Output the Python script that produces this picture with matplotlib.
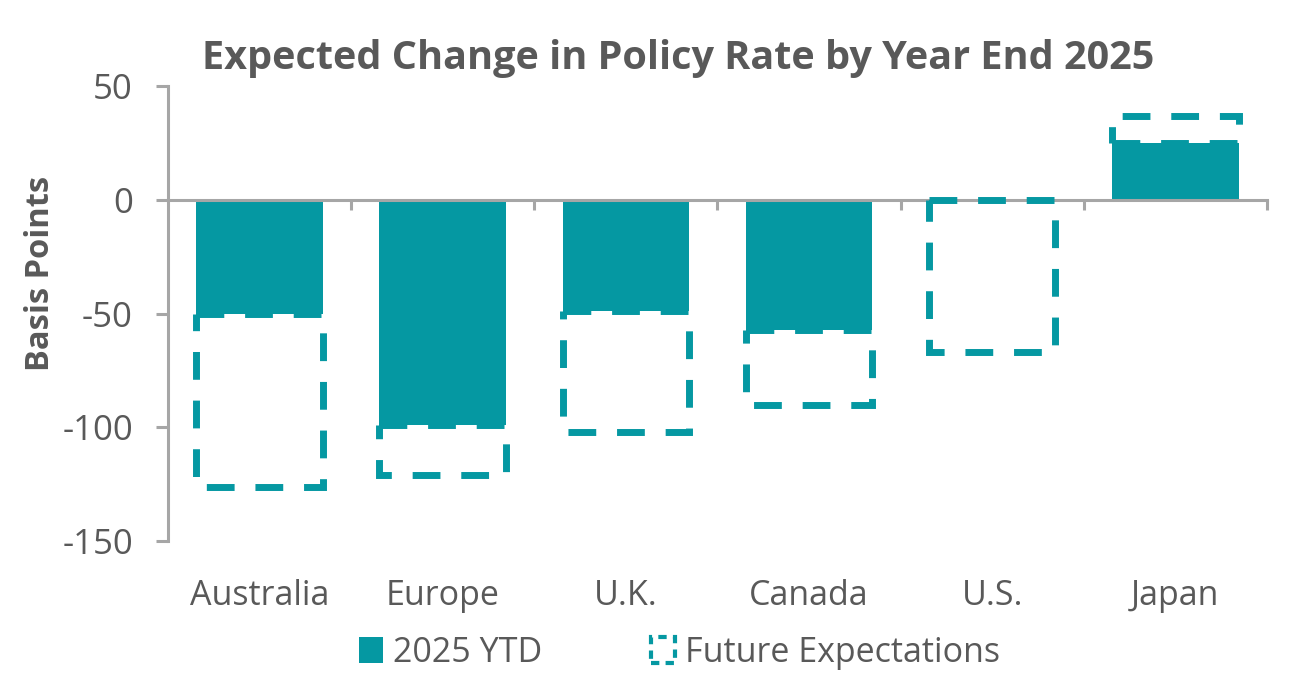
import numpy as np
import matplotlib.pyplot as plt
import matplotlib.transforms as mtransforms
from matplotlib.patches import Patch

plt.rcParams['font.family'] = ['Open Sans', 'DejaVu Sans']
plt.rcParams['axes.unicode_minus'] = False

# Data
countries = ['Australia', 'Europe', 'U.K.', 'Canada', 'U.S.', 'Japan']
ytd = np.array([-50, -99, -49, -57, 0, 25])
future = np.array([-76, -22, -53, -33, -67, 12])

teal = '#0598A2'
grey_txt = '#595959'
grey_ax = '#A6A6A6'

fig = plt.figure(figsize=(13, 7), dpi=100)
ax = fig.add_axes([0.129, 0.227, 0.8456, 0.650])

x = np.arange(len(countries))
w = 0.69
ax.bar(x, ytd, width=w, color=teal, zorder=2)
ax.bar(x, future, width=w, bottom=ytd, facecolor='none', edgecolor=teal,
       linewidth=5, linestyle=(0, (4, 3)), zorder=3)

ax.set_xlim(-0.5, len(countries) - 0.5)
ax.set_ylim(-150, 50)
ax.set_yticks([-150, -100, -50, 0, 50])

for s in ['top', 'right']:
    ax.spines[s].set_visible(False)
ax.spines['bottom'].set_position(('data', 0))
ax.spines['bottom'].set_color(grey_ax)
ax.spines['bottom'].set_linewidth(2.2)
ax.spines['left'].set_color(grey_ax)
ax.spines['left'].set_linewidth(2.2)

ax.tick_params(axis='y', colors=grey_ax, labelcolor=grey_txt, labelsize=25,
               length=9, width=2.2, pad=16)
ax.set_xticks([])
ax.set_xticks(np.arange(len(countries)) + 0.5, minor=True)
ax.tick_params(axis='x', which='minor', colors=grey_ax, length=7, width=2.2,
               labelbottom=False)

# category labels below the plot
trans = mtransforms.blended_transform_factory(ax.transData, fig.transFigure)
for xi, name in zip(x, countries):
    ax.text(xi, 0.149, name, transform=trans, ha='center', va='center',
            fontsize=24.5, color=grey_txt)

fig.text(0.5215, 0.917, 'Expected Change in Policy Rate by Year End 2025',
         ha='center', va='center', fontsize=28.5, fontweight='bold', color=grey_txt)
fig.text(0.031, 0.61, 'Basis Points', rotation=90, ha='center', va='center',
         fontsize=23.5, fontweight='bold', color=grey_txt)

handles = [Patch(facecolor=teal, edgecolor='none', label='2025 YTD'),
           Patch(facecolor='none', edgecolor=teal, linewidth=3,
                 linestyle=(0, (2, 1.5)), label='Future Expectations')]
fig.legend(handles=handles, loc='center', bbox_to_anchor=(0.523, 0.067), ncol=2,
           frameon=False, fontsize=24.5, labelcolor=grey_txt, handlelength=0.7,
           handleheight=0.8, handletextpad=0.3, columnspacing=3.2)

fig.savefig('out.png', dpi=100)
